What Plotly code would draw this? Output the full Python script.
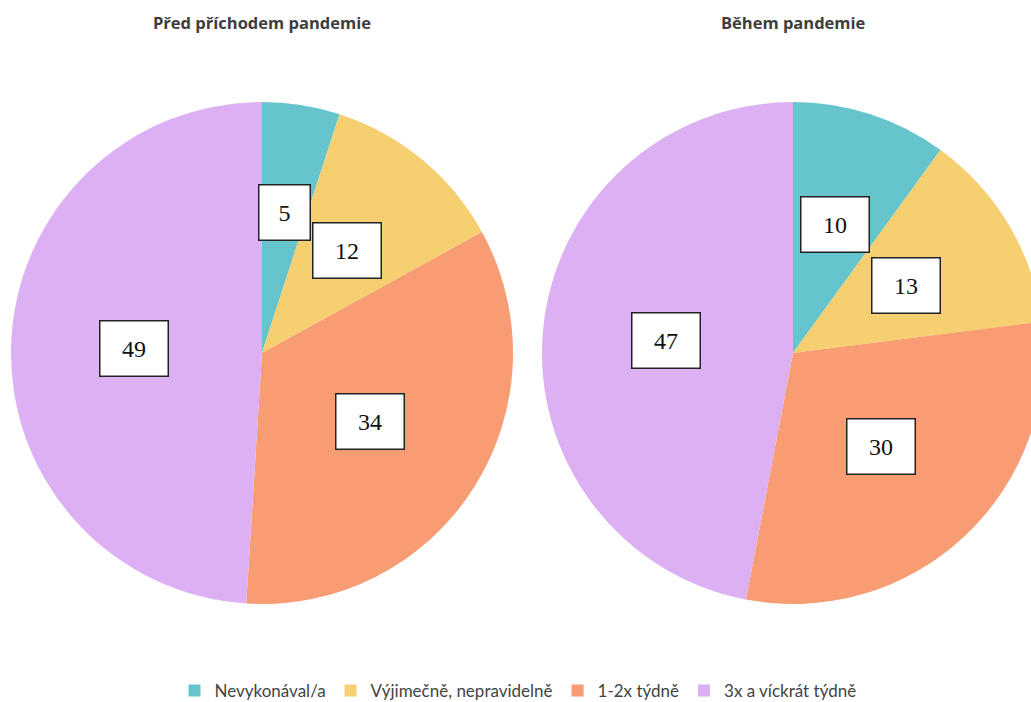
import math
import plotly.graph_objects as go

categories = ["Nevykonával/a", "Výjimečně, nepravidelně", "1-2x týdně", "3x a víckrát týdně"]
before_values = [5, 12, 34, 49]
during_values = [10, 13, 30, 47]
titles = ["Před příchodem pandemie", "Během pandemie"]
colors = ["#66C5CC", "#F6CF71", "#F89C74", "#DCB0F2"]

W, H = 1060, 702
# pie pixel geometry (center x, center y from top, radius)
pies = [(262, 353, 251), (793, 353, 251)]

fig = go.Figure()
for i, (vals, (cx, cy, r)) in enumerate(zip([before_values, during_values], pies)):
    fig.add_trace(go.Pie(
        labels=categories, values=vals, sort=False, direction="clockwise", rotation=0,
        marker=dict(colors=colors, line=dict(width=0)),
        textinfo="none", hoverinfo="label+value",
        domain=dict(x=[(cx - r) / W, (cx + r) / W], y=[(H - cy - r) / H, (H - cy + r) / H]),
        showlegend=(i == 0),
    ))
    # title
    fig.add_annotation(x=cx / W, y=(H - 22) / H, xref="paper", yref="paper",
                       text="<b>%s</b>" % titles[i], showarrow=False,
                       font=dict(family="Open Sans", size=16.5, color="#3d3d3d"),
                       xanchor="center", yanchor="middle")
    # value labels in boxes
    total = sum(vals)
    cum = 0
    for v in vals:
        share = v / total
        mid = (cum + v / 2) / total * 2 * math.pi
        cum += v
        rr = r * max(0.51, 0.59 - 0.5 * share)
        px = cx + rr * math.sin(mid)
        py = cy - rr * math.cos(mid)
        t = str(v)
        fig.add_annotation(x=px / W, y=(H - py) / H, xref="paper", yref="paper",
                           text=t, showarrow=False,
                           font=dict(family="Liberation Serif", size=24, color="#111"),
                           bgcolor="white", bordercolor="#222", borderwidth=1.5,
                           borderpad=12, width=9 + 17 * len(t), height=30,
                           xanchor="center", yanchor="middle")

fig.update_layout(
    width=W, height=H, margin=dict(l=0, r=0, t=0, b=0, autoexpand=False),
    paper_bgcolor="white", plot_bgcolor="white",
    legend=dict(orientation="h", x=518 / W, xanchor="center", y=(H - 691) / H, yanchor="middle",
                font=dict(family="Lato", size=17, color="#444"), itemwidth=30,
                traceorder="normal"),
)

fig.write_html("out.html", config={"displayModeBar": False},
               post_script="document.body.style.margin='0';document.body.style.overflow='hidden';document.documentElement.style.overflow='hidden';")
